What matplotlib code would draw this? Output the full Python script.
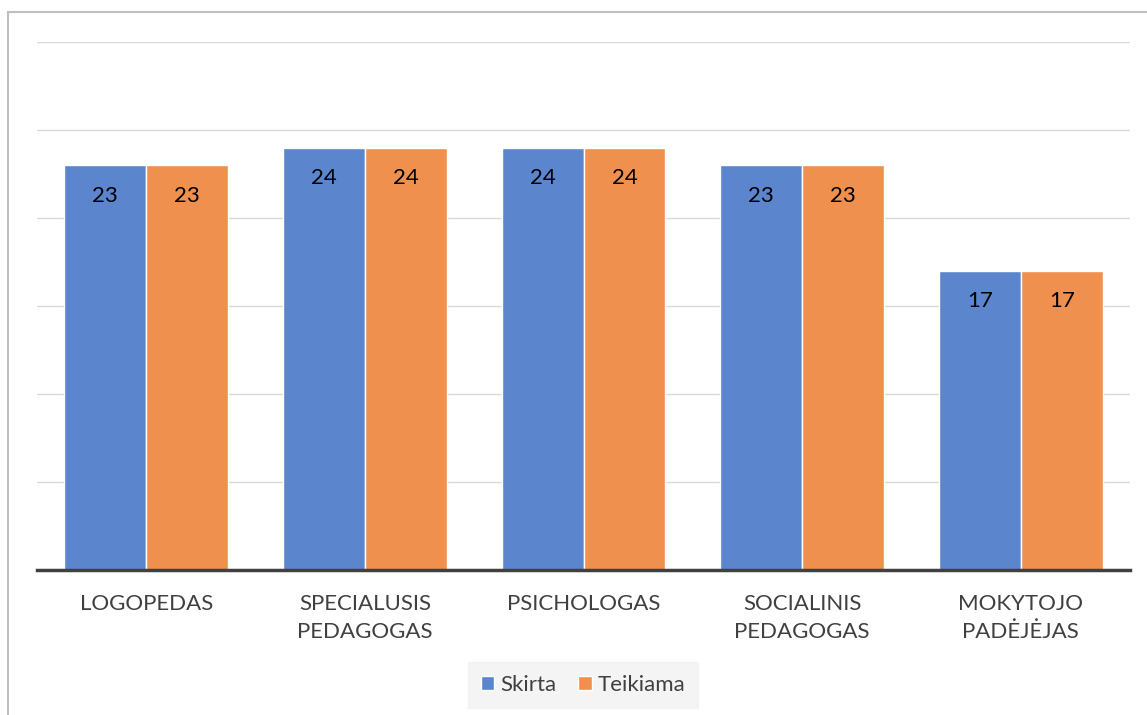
import numpy as np
import matplotlib.pyplot as plt
from matplotlib.patches import Rectangle

plt.rcParams['font.family'] = ['Lato', 'DejaVu Sans']

categories = ["LOGOPEDAS", "SPECIALUSIS\nPEDAGOGAS", "PSICHOLOGAS",
              "SOCIALINIS\nPEDAGOGAS", "MOKYTOJO\nPADĖJĖJAS"]
skirta = [23, 24, 24, 23, 17]
teikiama = [23, 24, 24, 23, 17]

blue = "#5B86CD"
orange = "#F0904E"

fig = plt.figure(figsize=(11.47, 7.15), dpi=100)
ax = fig.add_axes([37/1147, 1 - 570/715, 1093/1147, 528/715])

x = np.arange(len(categories))
w = 0.375
b1 = ax.bar(x - w/2, skirta, w, color=blue, edgecolor="white", linewidth=1, label="Skirta", zorder=3)
b2 = ax.bar(x + w/2, teikiama, w, color=orange, edgecolor="white", linewidth=1, label="Teikiama", zorder=3)

for bars in (b1, b2):
    for r in bars:
        ax.annotate(str(int(r.get_height())), (r.get_x() + r.get_width()/2, r.get_height()),
                    xytext=(0, -22), textcoords="offset points", ha="center", va="center",
                    fontsize=16, color="black", zorder=4)

ax.set_xlim(-0.5, len(categories) - 0.5)
ax.set_ylim(0, 30)
ax.set_yticks(np.arange(0, 31, 5))
ax.set_yticklabels([])
ax.tick_params(axis="y", length=0)
ax.tick_params(axis="x", length=0, pad=17, labelsize=16, labelcolor="#404040")
ax.set_xticks(x)
ax.set_xticklabels(categories, linespacing=1.55)
ax.grid(axis="y", color="#d9d9d9", linewidth=1, zorder=0)
for s in ["top", "right", "left"]:
    ax.spines[s].set_visible(False)
ax.spines["bottom"].set_color("#404040")
ax.spines["bottom"].set_linewidth(2.5)
ax.spines["bottom"].set_zorder(5)

leg = fig.legend(handles=[b1, b2], labels=["Skirta", "Teikiama"], loc="center",
                 bbox_to_anchor=(583/1147, 1 - 685/715), ncol=2, frameon=True,
                 fontsize=16, handlelength=0.6, handleheight=0.6, handletextpad=0.25,
                 columnspacing=1.0, borderpad=0.6, fancybox=False)
leg.get_frame().set_facecolor("#f2f2f2")
leg.get_frame().set_edgecolor("#f2f2f2")
for t in leg.get_texts():
    t.set_color("#404040")

fig.patches.append(Rectangle((8/1147, -0.1), 1.2, 1 - 12/715 + 0.1, transform=fig.transFigure,
                             fill=False, edgecolor="#bfbfbf", linewidth=1.5))

fig.savefig("out.png", dpi=100)
